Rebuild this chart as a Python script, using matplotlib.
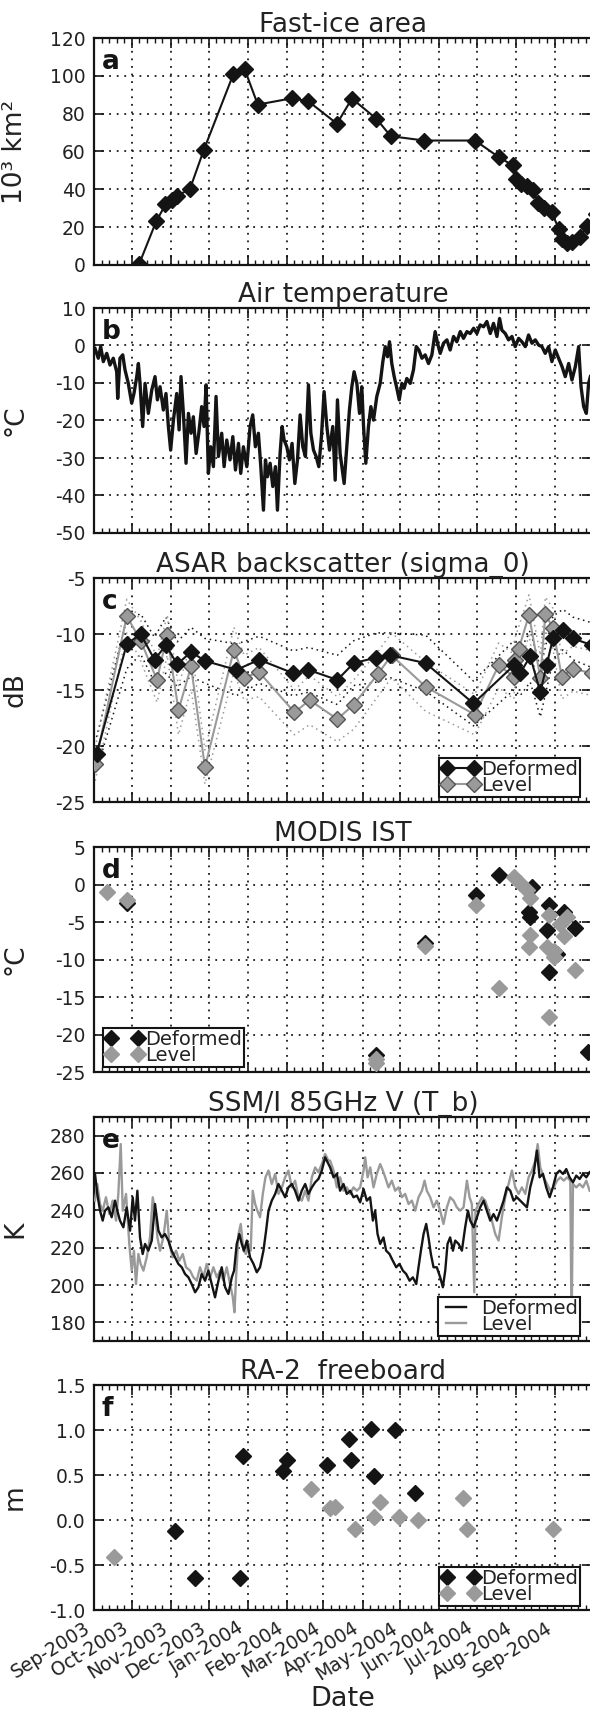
import numpy as np
import pandas as pd
import matplotlib
matplotlib.use("Agg")
import matplotlib.pyplot as plt
import matplotlib.dates as mdates

# ---------------- DATA (days after 2003-09-01) ----------------
START = "2003-09-01"
X_END = "2004-09-30"
MONTH_LABELS = ["Sep-2003", "Oct-2003", "Nov-2003", "Dec-2003", "Jan-2004", "Feb-2004",
                "Mar-2004", "Apr-2004", "May-2004", "Jun-2004", "Jul-2004", "Aug-2004", "Sep-2004"]

# (a) Fast-ice area, 10^3 km^2
ice_days = [35.8, 49.3, 56.7, 62.1, 65.7, 76.2, 87.2, 110.5, 119.5, 129.9, 156.8, 169.7, 192.7,
            204.6, 224.0, 235.4, 261.9, 302.3, 321.1, 332.1, 334.5, 339.0, 343.5, 348.0, 352.4,
            356.9, 362.9, 368.9, 371.0, 374.8, 379.3, 385.3, 391.3, 398.0]
ice_area = [0.5, 23.0, 32.0, 34.5, 36.3, 40.4, 61.0, 100.8, 103.5, 84.8, 88.1, 86.7, 74.7,
            88.0, 77.3, 68.1, 65.8, 65.8, 57.0, 52.7, 45.7, 43.0, 41.6, 39.8, 32.7,
            30.1, 27.8, 18.9, 13.6, 11.5, 12.4, 15.0, 20.4, 27.0]

# (b) Air temperature, deg C
air_days = [0.8, 3.4, 5.3, 7.4, 10.1, 12.7, 15.3, 18.0, 18.8, 20.6, 22.8, 24.6, 27.2, 29.9, 31.7,
            33.9, 35.2, 36.5, 38.6, 40.5, 43.1, 45.8, 48.4, 50.3, 52.4, 55.0, 57.1, 59.0, 60.8, 63.0,
            65.6, 67.5, 69.0, 70.9, 73.0, 74.9, 77.0, 78.8, 81.0, 83.1, 85.4, 87.3, 88.9, 90.7, 92.6,
            94.7, 96.8, 98.7, 101.3, 103.2, 105.3, 107.9, 110.1, 112.2, 114.6, 116.4, 118.5, 121.2,
            123.8, 125.9, 128.0, 130.4, 132.3, 134.4, 136.0, 137.6, 139.7, 141.8, 143.9, 145.5, 147.6,
            149.2, 150.8, 152.9, 155.0, 157.1, 159.3, 161.4, 163.5, 165.6, 167.7, 170.1, 172.0, 174.1,
            176.2, 178.3, 180.4, 182.5, 184.7, 186.8,
            189.4, 191.3, 193.1, 195.2, 198.4, 200.5, 202.6, 204.5, 206.3, 208.5, 210.6, 212.4, 213.8,
            215.6, 217.7, 219.6, 221.7, 224.3, 227.0, 229.1, 231.0, 232.8, 234.4, 236.2, 238.1, 240.2,
            242.1, 244.2, 246.0, 248.1, 250.8, 253.4, 255.6, 257.7, 260.1, 262.7, 265.3, 268.0, 270.6,
            272.5, 274.6, 277.2, 279.9, 282.5, 285.2, 287.8, 290.5, 293.1, 295.8, 298.4, 301.1, 303.7,
            306.3, 309.0, 311.6, 314.3, 316.9, 319.6, 321.7, 323.5, 326.2, 328.8, 331.5, 334.1, 336.8,
            339.4, 342.1, 344.7, 347.4, 350.0, 352.7, 355.3, 357.9, 360.6, 363.2, 365.9, 368.5, 371.2,
            373.8, 376.5, 379.1, 381.8, 384.4, 386.3, 388.4, 390.5, 392.3, 393.7]
air_temp = [-0.8, -3.4, -0.3, -4.3, -2.1, -5.2, -3.4, -7.0, -14.1, -3.4, -2.5, -6.5, -10.1, -15.4, -12.8,
            -8.3, -4.8, -10.1, -21.6, -10.1, -18.1, -11.9, -8.3, -14.5, -11.0, -17.2, -12.8, -21.6, -27.9,
            -19.9, -12.8, -22.5, -8.3, -18.1, -31.4, -18.1, -23.4, -19.0, -28.8, -23.4, -16.3, -21.6, -10.5,
            -34.1, -27.0, -32.3, -13.6, -29.6, -23.4, -32.3, -25.2, -30.5, -24.3, -33.2, -26.1, -34.1, -27.0,
            -32.3, -21.6, -18.5, -27.0, -23.4, -32.3, -43.9, -30.5, -35.0, -31.4, -37.6, -32.3, -43.9, -28.8,
            -21.6, -25.2, -27.0, -30.5, -26.1, -36.8, -30.5, -18.5, -27.0, -29.6, -10.5, -23.4, -27.9, -29.6,
            -32.3, -24.3, -12.3, -21.6, -27.9,
            -21.6, -35.9, -14.5, -28.8, -36.8, -27.0, -17.2, -11.0, -7.0, -10.1, -18.1, -11.0, -21.6,
            -31.4, -21.6, -16.3, -19.9, -13.6, -10.1, -4.3, -0.3, -3.0, 1.0, -4.8, -8.3, -11.4,
            -14.5, -10.1, -11.4, -8.8, -10.1, -6.5, -0.3, -1.2, -3.4, -2.5, -4.8, -2.5, 3.7,
            0.6, -2.1, 0.6, 1.5, -1.2, 2.4, 1.0, 3.7, 1.9, 3.7, 3.2, 4.6, 3.2,
            5.5, 5.0, 6.4, 3.2, 5.9, 2.4, 7.2, 4.1, 3.2, 1.5, 2.4, -0.3, 1.9,
            1.0, -0.3, 2.8, 0.6, 1.5, 0.1, -0.3, -2.1, -0.3, -4.3, -1.2, -3.4, -5.6,
            -8.3, -4.8, -9.2, -5.6, -0.3, -11.0, -16.3, -18.1, -10.1, -8.3]

# (c) ASAR backscatter, dB (mean and spread)
asar_def_days = [2, 26, 37, 48, 57, 66, 77, 88, 113, 131, 158, 170, 193, 206, 224, 235, 263, 301,
                 333, 338, 346, 354, 359, 364, 372, 380, 395]
asar_def_db = [-20.7, -10.9, -10.0, -12.3, -11.0, -12.7, -11.6, -12.4, -13.2, -12.3, -13.5, -13.2,
               -14.1, -12.6, -12.1, -11.9, -12.6, -16.2, -12.8, -13.5, -12.0, -15.2, -12.8, -10.4,
               -9.6, -10.4, -11.0]
asar_def_sd = [1.5, 2.2, 1.8, 2.0, 2.5, 2.0, 2.2, 2.0, 2.3, 2.1, 2.0, 2.0, 2.2, 2.0, 2.2, 2.0,
               2.5, 2.0, 2.2, 2.0, 2.3, 2.2, 2.1, 2.0, 1.8, 1.9, 2.0]
asar_lvl_days = [1, 26, 37, 50, 58, 67, 77, 88, 111, 119, 131, 159, 171, 193, 206, 225, 236, 263,
                 302, 321, 333, 334, 337, 345, 354, 358, 364, 371, 380, 395]
asar_lvl_db = [-21.6, -8.4, -10.6, -14.1, -10.1, -16.8, -12.9, -21.9, -11.4, -13.9, -13.4, -17.0,
               -15.9, -17.6, -16.3, -13.6, -11.9, -14.7, -17.2, -12.8, -13.8, -12.3, -11.3, -8.3,
               -13.9, -8.2, -9.5, -13.8, -13.1, -13.5]
asar_lvl_sd = [1.5, 1.5, 1.8, 2.0, 1.8, 2.2, 2.0, 1.5, 2.0, 2.0, 2.2, 2.0, 2.2, 2.0, 2.2, 2.0,
               2.0, 2.2, 1.8, 2.0, 2.0, 2.0, 2.0, 1.8, 2.0, 1.5, 1.8, 2.0, 2.0, 2.0]

# (d) MODIS IST, deg C
ist_def_days = [26, 224, 262.7, 303.1, 320.9, 347.3, 344.7, 346.0, 360.6, 359.2, 372.5, 381.7,
                360.6, 367.2, 392.0]
ist_def_t = [-2.5, -22.7, -7.8, -1.4, 1.3, -0.3, -3.7, -4.3, -2.7, -6.1, -3.7, -5.8, -11.7, -9.2, -22.3]
ist_lvl_days = [10, 26, 224, 224, 262.7, 303.1, 320.9, 332.8, 338.1, 343.4, 346.0, 346.0, 344.7,
                360.6, 359.2, 364.5, 369.8, 372.5, 375.1, 360.6, 381.7, 364.5]
ist_lvl_t = [-1.0, -2.0, -23.3, -23.8, -8.2, -2.7, -13.8, 1.0, 0.2, -0.7, -1.8, -6.7, -8.3,
             -4.1, -8.3, -9.7, -5.2, -6.9, -4.3, -17.7, -11.4, -8.8]

# (e) SSM/I 85 GHz V brightness temperature, K
tb_def_days = [0.8, 2.6, 4.8, 6.9, 8.7, 11.4, 14.0, 16.7, 18.5, 20.6, 23.3, 25.9, 28.6, 30.7, 32.5,
               34.4, 36.5, 38.6, 40.5, 43.1, 45.8, 48.4, 51.1, 53.7, 56.3, 59.0, 61.6, 64.3, 66.9, 69.6,
               72.2, 74.9, 77.5, 80.2, 82.8, 85.4, 88.1, 90.7, 93.4, 96.0, 98.7, 101.3, 104.0, 106.6,
               109.3, 111.1, 113.2, 115.3, 117.2, 119.0, 121.2, 123.8, 126.5, 129.1, 131.7, 134.4,
               136.5, 138.4, 141.0, 143.7, 146.3, 149.0, 151.6, 154.2, 156.9, 159.5, 162.2, 164.8,
               167.5, 170.1, 172.8, 175.4, 178.0, 180.7, 183.3, 186.0,
               187.3, 190.0, 192.6, 195.2, 197.9, 200.5, 203.2, 205.8, 208.5, 211.1, 213.8, 216.4,
               219.0, 221.2, 223.0, 224.9, 227.0, 229.6, 231.7, 234.4, 237.0, 239.7, 242.3, 245.0,
               247.6, 250.3, 252.9, 255.6, 257.4, 259.3, 261.4, 263.5, 265.3, 267.2, 269.3, 271.9,
               274.6, 276.7, 278.6, 280.4, 282.5, 284.7, 286.5, 289.2, 291.8, 294.4, 296.6, 298.4,
               301.1, 303.7, 306.3, 309.0, 311.6, 314.3, 316.9, 319.6, 322.2, 324.9, 327.5, 330.2,
               332.8, 335.4, 338.1, 340.7, 343.4, 346.0, 348.7, 351.3, 353.4, 356.1, 358.7, 361.4,
               364.0, 366.7, 369.3, 372.0, 374.6, 377.2, 379.9, 382.5, 385.2, 387.8, 390.5, 393.1]
tb_def_k = [259.5, 248.8, 239.8, 234.5, 239.8, 241.6, 236.3, 245.2, 239.8, 234.5, 230.9, 241.6, 229.1,
            247.0, 234.5, 250.5, 225.5, 216.6, 222.0, 218.4, 223.8, 243.4, 229.1, 225.5, 227.3, 223.8,
            218.4, 214.8, 211.3, 209.5, 205.9, 204.1, 200.5, 196.1, 198.8, 205.9, 202.3, 207.7, 200.5,
            193.4, 202.3, 209.5, 198.8, 195.2, 204.1, 207.7, 222.0, 227.3, 222.0, 218.4, 223.8, 214.8,
            211.3, 206.8, 209.5, 218.4, 229.1, 239.8, 245.2, 248.8, 254.1, 250.5, 247.0, 252.3, 254.1,
            250.5, 245.2, 250.5, 254.1, 248.8, 252.3, 255.0, 256.8, 261.3, 268.4, 264.8,
            263.0, 257.7, 259.5, 250.5, 254.1, 248.8, 250.5, 247.0, 247.9, 244.3, 251.4, 245.2, 247.0,
            234.5, 239.8, 227.3, 222.0, 225.5, 218.4, 216.6, 213.0, 209.5, 211.3, 207.7, 205.9, 202.3,
            204.1, 200.5, 209.5, 218.4, 227.3, 232.7, 225.5, 216.6, 209.5, 209.5, 204.1, 198.8, 207.7,
            222.0, 225.5, 218.4, 223.8, 222.0, 218.4, 230.9, 239.8, 234.5, 230.9, 236.3, 241.6, 245.2,
            239.8, 234.5, 238.0, 234.5, 239.8, 245.2, 252.3, 250.5, 245.2, 247.0, 245.2, 243.4, 241.6,
            252.3, 259.5, 272.0, 257.7, 259.5, 252.3, 247.0, 252.3, 259.5, 261.3, 259.5, 262.1, 257.7,
            255.0, 258.6, 256.8, 259.5, 257.7, 260.4]
tb_lvl_days = [0.8, 2.6, 4.8, 6.9, 9.5, 12.2, 14.8, 17.5, 19.3, 21.2, 22.8, 25.4, 28.0, 29.9, 31.7,
               33.3, 35.2, 37.0, 39.2, 41.8, 44.4, 46.6, 48.4, 50.3, 52.4, 55.0, 57.7, 59.8, 62.4, 65.1,
               67.7, 70.4, 73.0, 76.2, 78.8, 81.5, 84.1, 86.8, 89.4, 92.1, 94.7, 97.4, 100.0, 102.6,
               105.3, 107.9, 110.1, 111.4, 112.7, 114.6, 116.4, 118.5, 120.6, 122.5, 124.3, 125.9,
               127.8, 129.6, 131.7, 133.9, 136.0, 138.4, 141.0, 143.7, 146.3, 149.0, 151.6, 154.2,
               156.9, 159.5, 162.2, 164.8, 167.5, 170.1, 172.8, 175.4, 178.0, 180.7, 183.3, 186.0,
               187.3, 190.0, 192.6, 195.2, 197.9, 200.5, 203.2, 205.8, 208.5, 211.1, 213.8, 215.1,
               217.0, 219.1, 221.7, 224.3, 227.0, 229.1, 231.0, 233.6, 236.2, 238.9, 241.5, 244.2,
               246.8, 249.5, 252.1, 254.8, 257.4, 260.1, 262.2, 264.0, 266.7, 269.3, 271.9, 274.6,
               277.2, 279.9, 282.5, 285.2, 287.8, 290.5, 293.1, 295.8, 297.9, 299.7, 301.6, 302.6,
               305.0, 307.7, 310.3, 313.0, 315.6, 318.3, 320.9, 323.5, 326.2, 328.8, 331.5, 334.1,
               336.8, 339.4, 342.1, 344.7, 347.4, 350.0, 351.9, 354.0, 356.7, 359.3, 362.0, 364.6,
               367.3, 369.9, 372.6, 375.2, 377.8, 378.8, 379.9, 382.5, 385.2, 387.8, 390.5, 393.1]
tb_lvl_k = [245.2, 254.1, 243.4, 239.8, 247.0, 238.0, 245.2, 234.5, 248.8, 275.5, 239.8, 248.8, 222.0,
            207.7, 218.4, 200.5, 216.6, 211.3, 207.7, 214.8, 225.5, 247.0, 239.8, 225.5, 218.4, 225.5,
            239.8, 222.0, 214.8, 218.4, 213.0, 216.6, 209.5, 207.7, 204.1, 202.3, 209.5, 204.1, 211.3,
            204.1, 209.5, 204.1, 207.7, 202.3, 209.5, 200.5, 193.4, 185.4, 204.1, 227.3, 232.7, 218.4,
            216.6, 222.0, 218.4, 250.5, 243.4, 239.8, 236.3, 248.8, 257.7, 261.3, 254.1, 259.5, 248.8,
            252.3, 257.7, 261.3, 252.3, 255.9, 247.0, 245.2, 250.5, 245.2, 257.7, 263.0, 260.4, 264.8,
            270.2, 266.6,
            266.6, 261.3, 252.3, 257.7, 250.5, 252.3, 248.8, 252.3, 250.5, 252.3, 261.3, 268.4, 257.7,
            263.0, 252.3, 259.5, 264.8, 261.3, 257.7, 252.3, 255.9, 250.5, 252.3, 247.0, 248.8, 243.4,
            245.2, 239.8, 247.0, 250.5, 255.9, 250.5, 247.0, 241.6, 245.2, 239.8, 232.7, 241.6, 247.0,
            245.2, 241.6, 239.8, 241.6, 255.9, 247.0, 243.4, 196.1, 239.8, 243.4, 247.0, 245.2, 239.8,
            234.5, 227.3, 223.8, 236.3, 247.0, 254.1, 261.3, 252.3, 248.8, 252.3, 248.8, 257.7, 261.3,
            266.6, 275.5, 263.0, 257.7, 254.1, 250.5, 252.3, 255.9, 257.7, 255.9, 257.7, 255.9, 175.0,
            254.1, 252.3, 254.1, 252.3, 255.9, 250.5]

# (f) RA-2 freeboard, m
fb_def_days = [64, 80, 116, 118, 150, 153, 185, 202, 204, 220, 222, 239, 255]
fb_def_m = [-0.12, -0.64, -0.64, 0.71, 0.55, 0.67, 0.61, 0.90, 0.67, 1.01, 0.49, 1.00, 0.30]
fb_lvl_days = [16, 172, 187, 191, 207, 222, 227, 242, 257, 293, 296, 364]
fb_lvl_m = [-0.41, 0.35, 0.13, 0.14, -0.10, 0.03, 0.20, 0.03, 0.00, 0.24, -0.10, -0.10]

TITLES = ["Fast-ice area", "Air temperature", "ASAR backscatter (sigma_0)", "MODIS IST",
          "SSM/I 85GHz V (T_b)", "RA-2  freeboard"]
YLABELS = ["10³ km²", "°C", "dB", "°C", "K", "m"]
LETTERS = ["a", "b", "c", "d", "e", "f"]
YLIMS = [(0, 120), (-50, 10), (-25, -5), (-25, 5), (170, 290), (-1.0, 1.5)]
YTICKS = [np.arange(0, 121, 20), np.arange(-50, 11, 10), np.arange(-25, -4, 5),
          np.arange(-25, 6, 5), np.arange(180, 281, 20), np.arange(-1.0, 1.51, 0.5)]
SERIES = ["Deformed", "Level"]

# ---------------- STYLE ----------------
plt.rcParams["font.family"] = ["DejaVu Sans"]
plt.rcParams["axes.unicode_minus"] = False
TXT = "#222222"
BLK = "#141414"
GRY = "#9a9a9a"


def dates(days):
    return pd.Timestamp(START) + pd.to_timedelta(np.asarray(days, dtype=float), unit="D")


W, H = 590, 1719
fig = plt.figure(figsize=(W / 100, H / 100), dpi=100)
fig.patch.set_facecolor("white")
panel_px = [(38, 265), (308, 533), (578, 802), (847, 1072), (1117, 1341), (1385, 1610)]
LEFT_PX, WIDTH_PX = 94, 498

axes = []
for i, (top, bot) in enumerate(panel_px):
    ax = fig.add_axes([LEFT_PX / W, 1 - bot / H, WIDTH_PX / W, (bot - top) / H])
    ax.set_xlim(pd.Timestamp(START), pd.Timestamp(X_END))
    ax.set_ylim(*YLIMS[i])
    ax.set_yticks(YTICKS[i])
    if i == 5:
        ax.set_yticklabels([f"{v:.1f}" for v in YTICKS[i]])
    ax.xaxis.set_major_locator(mdates.MonthLocator())
    ax.xaxis.set_minor_locator(mdates.DayLocator(bymonthday=[7, 13, 19, 25]))
    ax.xaxis.set_major_formatter(mdates.DateFormatter("%b-%Y"))
    ax.grid(True, which="major", color="#1a1a1a", linestyle=(0, (1, 3.2)), linewidth=1.3)
    ax.tick_params(axis="both", which="major", direction="in", top=True, right=True,
                   length=7, width=1.2, labelsize=13.5, colors=BLK, labelcolor=TXT, pad=6)
    ax.tick_params(axis="x", which="minor", direction="in", top=True, bottom=True,
                   length=3.5, width=1.0, colors=BLK)
    for s in ax.spines.values():
        s.set_linewidth(1.6)
        s.set_color(BLK)
    ax.set_title(TITLES[i], fontsize=19, color=TXT, pad=4)
    ax.set_ylabel(YLABELS[i], fontsize=19, color=TXT)
    ax.yaxis.set_label_coords(-0.1325, 0.5)
    ax.text(0.016, 0.862, LETTERS[i], transform=ax.transAxes, fontsize=19,
            fontweight="bold", color=BLK, va="baseline", ha="left", zorder=6)
    if i < 5:
        ax.tick_params(axis="x", labelbottom=False)
    axes.append(ax)

ax_a, ax_b, ax_c, ax_d, ax_e, ax_f = axes
MS = 8.0

# (a)
ax_a.plot(dates(ice_days), ice_area, "-", color=BLK, lw=1.5, marker="D", ms=MS,
          mfc=BLK, mec=BLK, zorder=3, clip_on=True)

# (b)
ax_b.plot(dates(air_days), air_temp, "-", color=BLK, lw=2.4, zorder=3)

# (c)
d_db, d_sd = np.array(asar_def_db), np.array(asar_def_sd)
l_db, l_sd = np.array(asar_lvl_db), np.array(asar_lvl_sd)
for sgn in (1, -1):
    ax_c.plot(dates(asar_def_days), d_db + sgn * d_sd, linestyle=(0, (1, 2.5)), color=BLK, lw=1.1, zorder=2)
    ax_c.plot(dates(asar_lvl_days), l_db + sgn * l_sd, linestyle=(0, (1, 2.5)), color=GRY, lw=1.1, zorder=2)
ax_c.plot(dates(asar_def_days), d_db, "-", color=BLK, lw=1.5, marker="D", ms=MS,
          mfc=BLK, mec=BLK, zorder=4, label=SERIES[0])
ax_c.plot(dates(asar_lvl_days), l_db, "-", color=GRY, lw=1.5, marker="D", ms=MS,
          mfc=GRY, mec="#555555", mew=1.0, zorder=3, label=SERIES[1])

# (d)
ax_d.plot(dates(ist_def_days), ist_def_t, linestyle="none", marker="D", ms=MS,
          mfc=BLK, mec=BLK, zorder=3, label=SERIES[0])
ax_d.plot(dates(ist_lvl_days), ist_lvl_t, linestyle="none", marker="D", ms=MS,
          mfc=GRY, mec=GRY, zorder=4, label=SERIES[1])

# (e)
ax_e.plot(dates(tb_def_days), tb_def_k, "-", color=BLK, lw=1.7, zorder=4, label=SERIES[0])
ax_e.plot(dates(tb_lvl_days), tb_lvl_k, "-", color=GRY, lw=1.7, zorder=3, label=SERIES[1])

# (f)
ax_f.plot(dates(fb_def_days), fb_def_m, linestyle="none", marker="D", ms=MS,
          mfc=BLK, mec=BLK, zorder=3, label=SERIES[0])
ax_f.plot(dates(fb_lvl_days), fb_lvl_m, linestyle="none", marker="D", ms=MS,
          mfc=GRY, mec=GRY, zorder=4, label=SERIES[1])

leg_kw = dict(fontsize=14, frameon=True, fancybox=False, framealpha=1, edgecolor=BLK,
              borderaxespad=0, labelspacing=-0.15, borderpad=0.1, handletextpad=0.05,
              handlelength=2.0, numpoints=2)
for ax, loc, anchor in [(ax_c, "lower right", (0.976, 0.022)),
                        (ax_d, "lower left", (0.018, 0.022)),
                        (ax_e, "lower right", (0.976, 0.022)),
                        (ax_f, "lower right", (0.976, 0.018))]:
    kw = dict(leg_kw)
    if ax is ax_e:
        kw["handlelength"] = 1.6
        kw["handletextpad"] = 0.5
    lg = ax.legend(loc=loc, bbox_to_anchor=anchor, **kw)
    lg.get_frame().set_linewidth(1.5)
    for t in lg.get_texts():
        t.set_color(TXT)
    lg.set_zorder(10)

# x tick labels on bottom panel
ax_f.tick_params(axis="x", labelbottom=True, labelsize=13.5)
ax_f.set_xticks(dates([0, 30, 61, 91, 122, 153, 182, 213, 243, 274, 304, 335, 366]))
ax_f.set_xticklabels(MONTH_LABELS, rotation=32, ha="right", rotation_mode="default")
ax_f.set_xlabel("Date", fontsize=19.5, color=TXT, labelpad=2)

fig.savefig("out.png", dpi=100, facecolor="white")
